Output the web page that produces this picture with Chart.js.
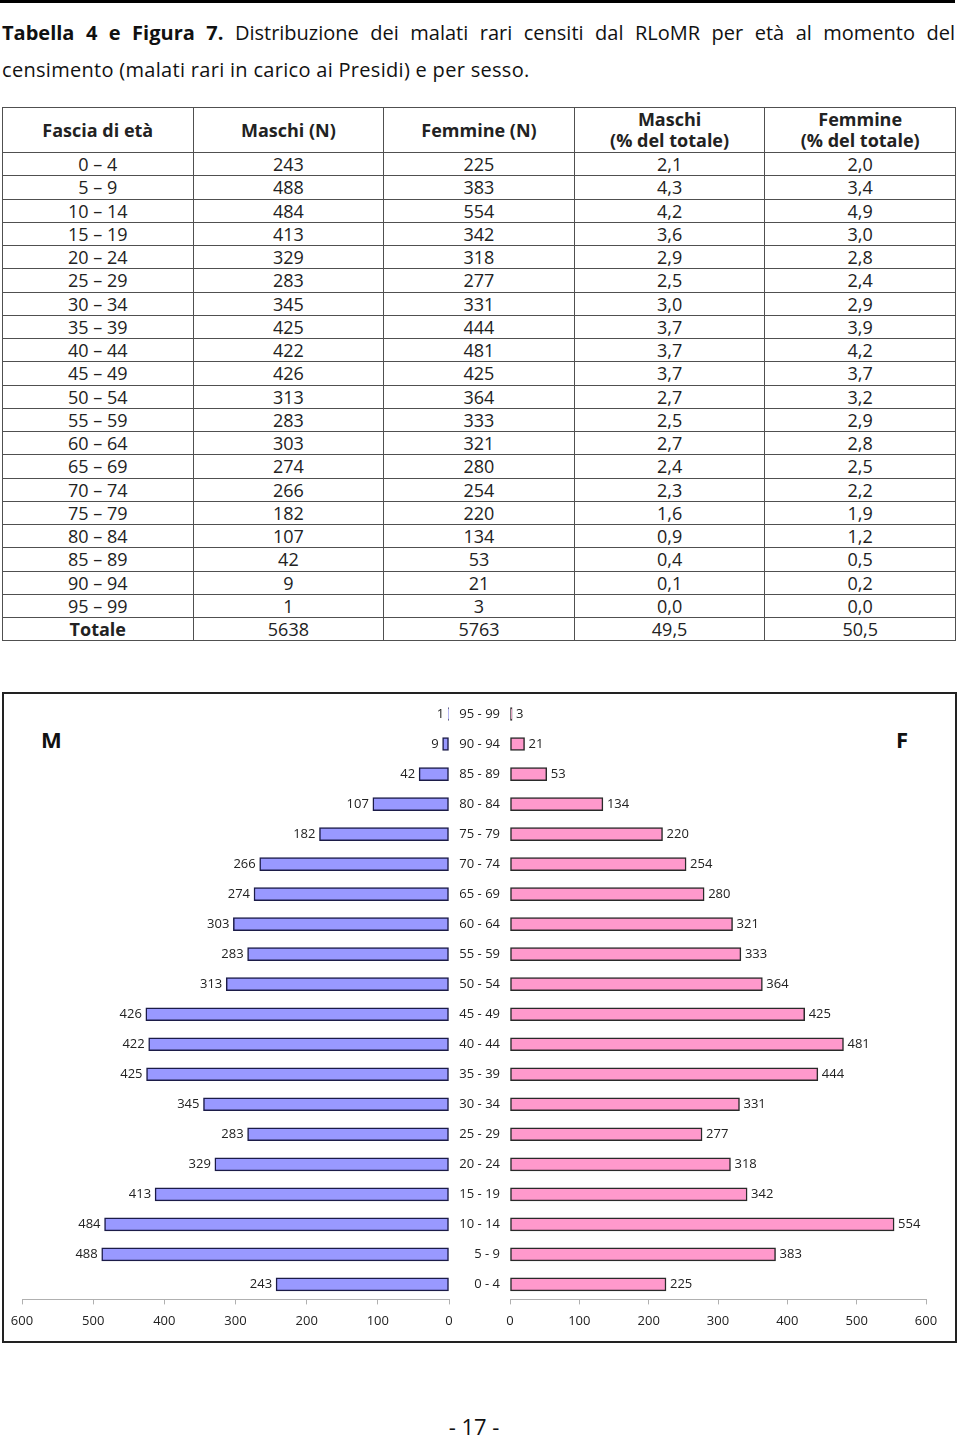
<!DOCTYPE html>
<html><head><meta charset="utf-8">
<script src="https://cdn.jsdelivr.net/npm/chart.js@4.4.1/dist/chart.umd.min.js"></script>
<style>
html,body{margin:0;padding:0;background:#fff;}
body{width:960px;height:1436px;position:relative;overflow:hidden;font-family:"Open Sans",Lato,sans-serif;color:#111;}
#topbar{position:absolute;left:0;top:0;width:955px;height:3px;background:#000;}
.title{position:absolute;left:2px;width:953px;font-size:20px;line-height:24px;white-space:nowrap;letter-spacing:0.3px;}
#t1{top:21px;text-align:justify;text-align-last:justify;white-space:normal;letter-spacing:0;}
#t2{top:58px;}
table{position:absolute;left:2px;top:107px;width:954px;border-collapse:collapse;font-size:18px;table-layout:fixed;}
td,th{border:1.5px solid #505050;text-align:center;padding:0;height:22.25px;line-height:20px;color:#222;}
th{font-weight:bold;height:44px;line-height:21px;}
tr.tot td:first-child{font-weight:bold;}
#box{position:absolute;left:2px;top:692px;width:951px;height:647px;border:2px solid #222;}
.sex{position:absolute;top:724px;font-size:22px;font-weight:bold;}
#page{position:absolute;top:1411px;left:0;width:948px;text-align:center;font-size:22px;}
canvas{position:absolute;}
</style>
</head><body>
<div id="topbar"></div>
<div class="title" id="t1"><b>Tabella 4 e Figura 7.</b> Distribuzione dei malati rari censiti dal RLoMR per età al momento del</div>
<div class="title" id="t2">censimento (malati rari in carico ai Presidi) e per sesso.</div>
<table id="tab"></table>
<div id="box"></div>
<div class="sex" style="left:41px">M</div>
<div class="sex" style="left:896px">F</div>
<canvas id="cm" width="456" height="646" style="left:4px;top:694px"></canvas>
<canvas id="cf" width="515" height="646" style="left:440px;top:694px"></canvas>
<div id="page">- 17 -</div>
<script>
const ageGroups = ["0 – 4","5 – 9","10 – 14","15 – 19","20 – 24","25 – 29","30 – 34","35 – 39","40 – 44","45 – 49","50 – 54","55 – 59","60 – 64","65 – 69","70 – 74","75 – 79","80 – 84","85 – 89","90 – 94","95 – 99"];
const males = [243,488,484,413,329,283,345,425,422,426,313,283,303,274,266,182,107,42,9,1];
const females = [225,383,554,342,318,277,331,444,481,425,364,333,321,280,254,220,134,53,21,3];
const malesPct = ["2,1","4,3","4,2","3,6","2,9","2,5","3,0","3,7","3,7","3,7","2,7","2,5","2,7","2,4","2,3","1,6","0,9","0,4","0,1","0,0"];
const femalesPct = ["2,0","3,4","4,9","3,0","2,8","2,4","2,9","3,9","4,2","3,7","3,2","2,9","2,8","2,5","2,2","1,9","1,2","0,5","0,2","0,0"];
const totalRow = ["Totale","5638","5763","49,5","50,5"];
const headers = ["Fascia di età","Maschi (N)","Femmine (N)","Maschi<br>(% del totale)","Femmine<br>(% del totale)"];
const chartLabels = ageGroups.map(s => s.replace('–','-'));

// table
const tab = document.getElementById('tab');
let html = '<tr>' + headers.map(h => '<th>' + h + '</th>').join('') + '</tr>';
ageGroups.forEach((a,i) => {
  html += '<tr><td>' + a + '</td><td>' + males[i] + '</td><td>' + females[i] + '</td><td>' + malesPct[i] + '</td><td>' + femalesPct[i] + '</td></tr>';
});
html += '<tr class="tot">' + totalRow.map(v => '<td>' + v + '</td>').join('') + '</tr>';
tab.innerHTML = html;

const FONT = '"Open Sans"';
const valueLabels = {
  id: 'valueLabels',
  afterDatasetsDraw(chart, args, opts) {
    const ctx = chart.ctx;
    const meta = chart.getDatasetMeta(0);
    const data = chart.data.datasets[0].data;
    ctx.save();
    ctx.font = '13px ' + FONT;
    ctx.fillStyle = '#222';
    ctx.textBaseline = 'middle';
    meta.data.forEach((bar, i) => {
      if (opts.side === 'left') {
        ctx.textAlign = 'right';
        ctx.fillText(String(data[i]), Math.min(bar.x, bar.base) - 4, bar.y);
      } else {
        ctx.textAlign = 'left';
        ctx.fillText(String(data[i]), Math.max(bar.x, bar.base) + 4, bar.y);
      }
    });
    ctx.restore();
  }
};

function xAxis(reverse) {
  return {
    min: 0, max: 600, reverse: reverse,
    ticks: { stepSize: 100, color: '#222', font: { size: 13 }, padding: 9, maxRotation: 0 },
    grid: { drawOnChartArea: false, drawTicks: true, tickLength: 5, color: '#b0b0b0' },
    border: { display: true, color: '#b0b0b0', width: 1 },
    afterFit: s => { s.paddingLeft = 0; s.paddingRight = 0; }
  };
}

function draw() {
  Chart.defaults.font.family = FONT;
  Chart.defaults.color = '#222';
  new Chart(document.getElementById('cm'), {
    type: 'bar',
    data: { labels: chartLabels, datasets: [{ data: males, backgroundColor: '#9999FF', borderColor: '#1c1c48', borderWidth: 1.5, borderSkipped: false, barThickness: 13 }] },
    options: {
      indexAxis: 'y', responsive: false, animation: false,
      layout: { padding: { left: 18, right: 11, top: 5, bottom: 2 } },
      plugins: { legend: { display: false }, tooltip: { enabled: false }, valueLabels: { side: 'left' } },
      scales: {
        x: xAxis(true),
        y: { display: false, reverse: true }
      }
    },
    plugins: [valueLabels]
  });
  new Chart(document.getElementById('cf'), {
    type: 'bar',
    data: { labels: chartLabels, datasets: [{ data: females, backgroundColor: '#FF99CC', borderColor: '#2a2a2a', borderWidth: 1.5, borderSkipped: false, barThickness: 13 }] },
    options: {
      indexAxis: 'y', responsive: false, animation: false,
      layout: { padding: { left: 0, right: 29, top: 5, bottom: 2 } },
      plugins: { legend: { display: false }, tooltip: { enabled: false }, valueLabels: { side: 'right' } },
      scales: {
        x: xAxis(false),
        y: {
          reverse: true,
          ticks: { color: '#222', font: { size: 13 }, padding: 10 },
          grid: { display: false, drawTicks: false },
          border: { display: false },
          afterFit: s => { s.width = 70; s.paddingTop = 0; s.paddingBottom = 0; }
        }
      }
    },
    plugins: [valueLabels]
  });
}
if (document.fonts && document.fonts.load) {
  Promise.all([document.fonts.load('13px "Open Sans"'), document.fonts.load('bold 18px "Open Sans"')]).then(draw, draw);
} else { draw(); }
</script>
</body></html>
